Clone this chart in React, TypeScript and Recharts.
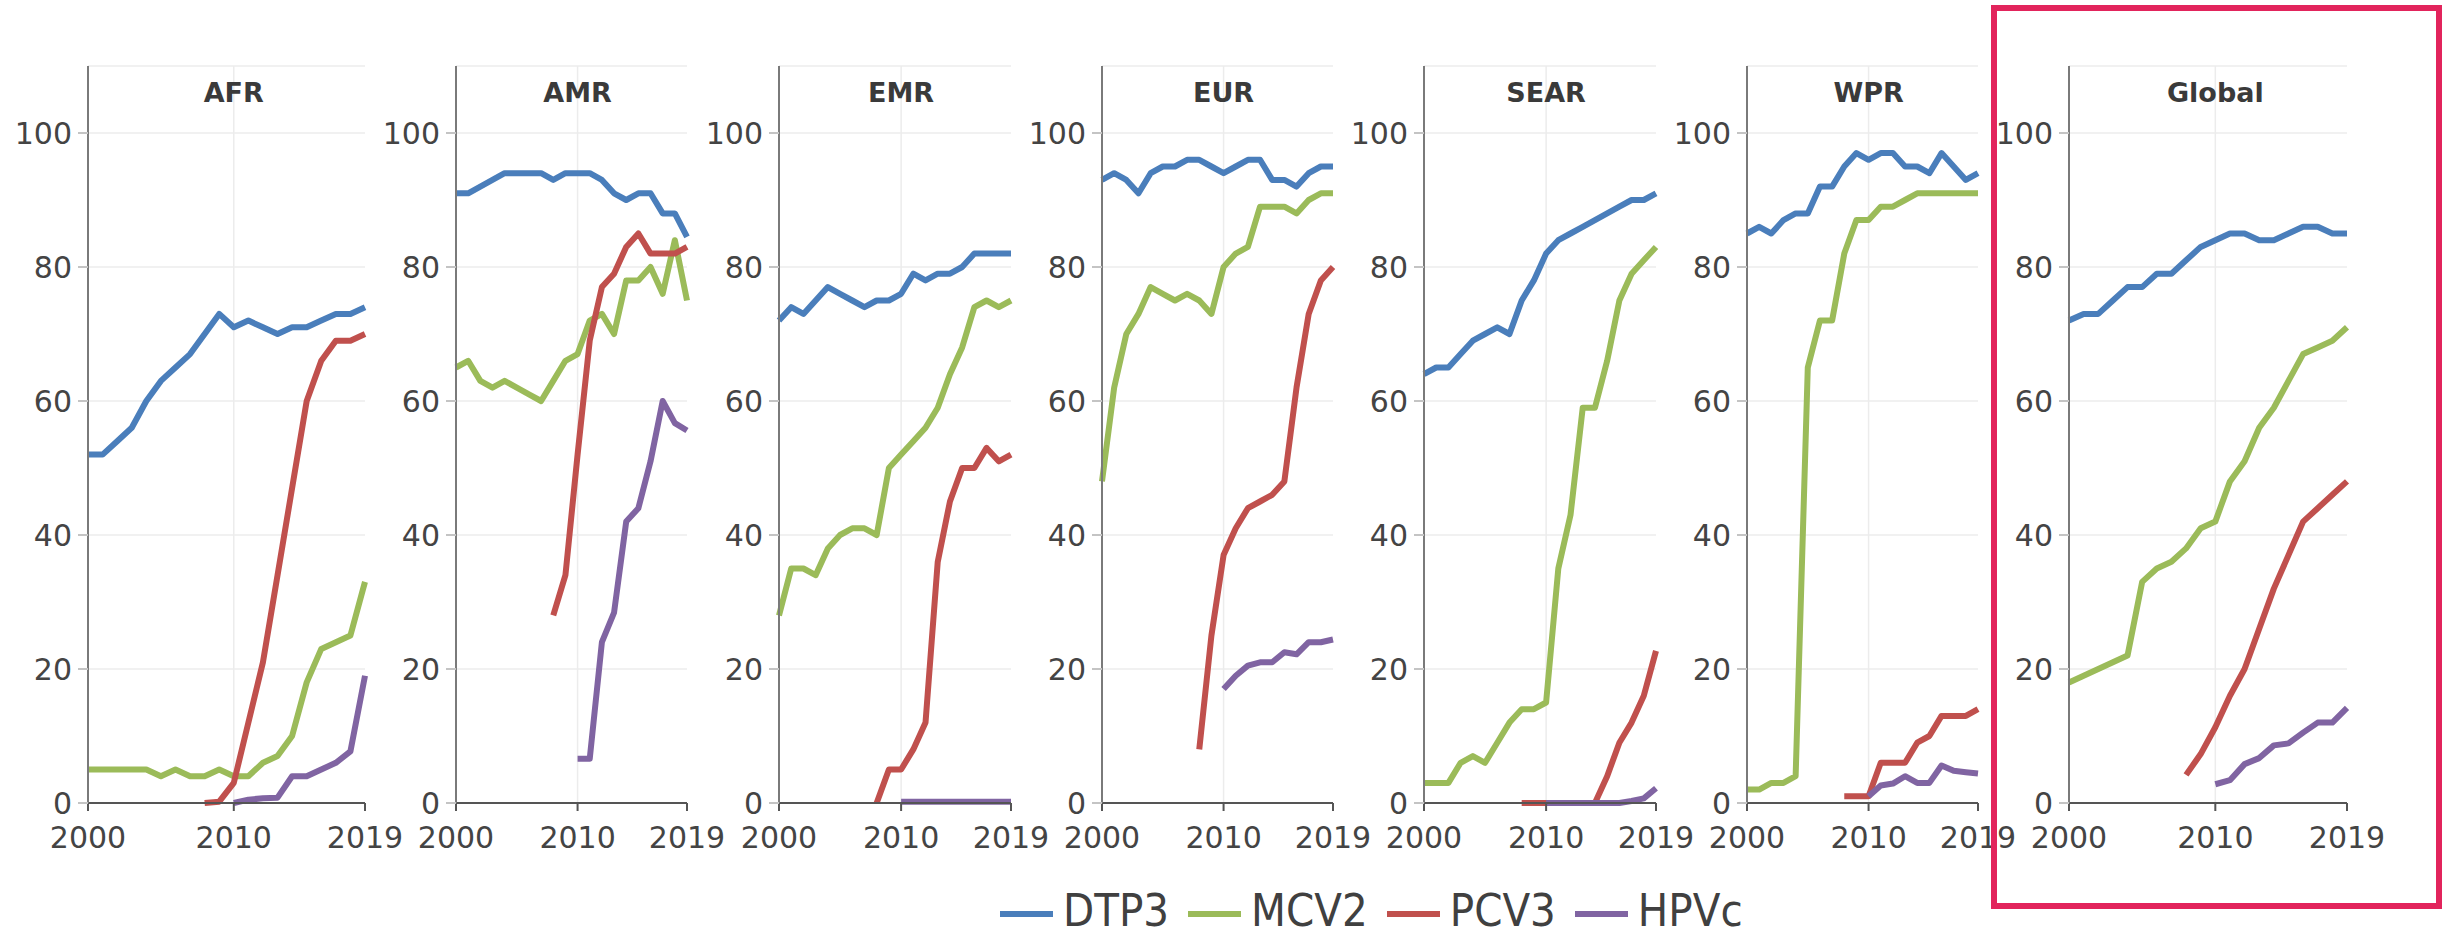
import { LineChart, Line, XAxis, YAxis, CartesianGrid, ReferenceLine, Label } from "recharts";

const years = [2000, 2001, 2002, 2003, 2004, 2005, 2006, 2007, 2008, 2009, 2010, 2011, 2012, 2013, 2014, 2015, 2016, 2017, 2018, 2019];
const xTicks = [2000, 2010, 2019];
const yTicks = [0, 20, 40, 60, 80, 100];
const seriesNames = ["DTP3", "MCV2", "PCV3", "HPVc"];
const seriesColors = ["#4A7EBB", "#9BBB59", "#C0504D", "#8064A2"];
const regions = ["AFR", "AMR", "EMR", "EUR", "SEAR", "WPR", "Global"];

const n = null;

// AFR
const afrDTP3 = [52, 52, 54, 56, 60, 63, 65, 67, 70, 73, 71, 72, 71, 70, 71, 71, 72, 73, 73, 74];
const afrMCV2 = [5, 5, 5, 5, 5, 4, 5, 4, 4, 5, 4, 4, 6, 7, 10, 18, 23, 24, 25, 33];
const afrPCV3 = [n, n, n, n, n, n, n, n, 0, 0.2, 3, 12, 21, 34, 47, 60, 66, 69, 69, 70];
const afrHPVc = [n, n, n, n, n, n, n, n, n, n, 0, 0.5, 0.7, 0.8, 4, 4, 5, 6, 7.7, 19];

// AMR
const amrDTP3 = [91, 91, 92, 93, 94, 94, 94, 94, 93, 94, 94, 94, 93, 91, 90, 91, 91, 88, 88, 84.5];
const amrMCV2 = [65, 66, 63, 62, 63, 62, 61, 60, 63, 66, 67, 72, 73, 70, 78, 78, 80, 76, 84, 75];
const amrPCV3 = [n, n, n, n, n, n, n, n, 28, 34, 52, 69, 77, 79, 83, 85, 82, 82, 82, 83];
const amrHPVc = [n, n, n, n, n, n, n, n, n, n, 6.6, 6.6, 24, 28.4, 42, 44, 51, 60, 56.7, 55.6];

// EMR
const emrDTP3 = [72, 74, 73, 75, 77, 76, 75, 74, 75, 75, 76, 79, 78, 79, 79, 80, 82, 82, 82, 82];
const emrMCV2 = [28, 35, 35, 34, 38, 40, 41, 41, 40, 50, 52, 54, 56, 59, 64, 68, 74, 75, 74, 75];
const emrPCV3 = [n, n, n, n, n, n, n, n, 0, 5, 5, 8, 12, 36, 45, 50, 50, 53, 51, 52];
const emrHPVc = [n, n, n, n, n, n, n, n, n, n, 0.2, 0.2, 0.2, 0.2, 0.2, 0.2, 0.2, 0.2, 0.2, 0.2];

// EUR
const eurDTP3 = [93, 94, 93, 91, 94, 95, 95, 96, 96, 95, 94, 95, 96, 96, 93, 93, 92, 94, 95, 95];
const eurMCV2 = [48, 62, 70, 73, 77, 76, 75, 76, 75, 73, 80, 82, 83, 89, 89, 89, 88, 90, 91, 91];
const eurPCV3 = [n, n, n, n, n, n, n, n, 8, 25, 37, 41, 44, 45, 46, 48, 62, 73, 78, 80];
const eurHPVc = [n, n, n, n, n, n, n, n, n, n, 17, 19, 20.5, 21, 21, 22.5, 22.2, 24, 24, 24.4];

// SEAR
const searDTP3 = [64, 65, 65, 67, 69, 70, 71, 70, 75, 78, 82, 84, 85, 86, 87, 88, 89, 90, 90, 91];
const searMCV2 = [3, 3, 3, 6, 7, 6, 9, 12, 14, 14, 15, 35, 43, 59, 59, 66, 75, 79, 81, 83];
const searPCV3 = [n, n, n, n, n, n, n, n, 0, 0, 0, 0, 0, 0, 0, 4, 9, 12, 16, 22.7];
const searHPVc = [n, n, n, n, n, n, n, n, n, n, 0, 0, 0, 0, 0, 0, 0, 0.3, 0.7, 2.2];

// WPR
const wprDTP3 = [85, 86, 85, 87, 88, 88, 92, 92, 95, 97, 96, 97, 97, 95, 95, 94, 97, 95, 93, 94];
const wprMCV2 = [2, 2, 3, 3, 4, 65, 72, 72, 82, 87, 87, 89, 89, 90, 91, 91, 91, 91, 91, 91];
const wprPCV3 = [n, n, n, n, n, n, n, n, 1, 1, 1, 6, 6, 6, 9, 10, 13, 13, 13, 14];
const wprHPVc = [n, n, n, n, n, n, n, n, n, n, 1, 2.6, 2.9, 4, 3, 3, 5.6, 4.8, 4.6, 4.4];

// Global
const globalDTP3 = [72, 73, 73, 75, 77, 77, 79, 79, 81, 83, 84, 85, 85, 84, 84, 85, 86, 86, 85, 85];
const globalMCV2 = [18, 19, 20, 21, 22, 33, 35, 36, 38, 41, 42, 48, 51, 56, 59, 63, 67, 68, 69, 71];
const globalPCV3 = [n, n, n, n, n, n, n, n, 4.2, 7.3, 11.3, 16, 20, 26, 32, 37, 42, 44, 46, 48];
const globalHPVc = [n, n, n, n, n, n, n, n, n, n, 2.8, 3.4, 5.8, 6.7, 8.6, 8.9, 10.5, 12, 12, 14.2];

const regionSeries = [
  [afrDTP3, afrMCV2, afrPCV3, afrHPVc],
  [amrDTP3, amrMCV2, amrPCV3, amrHPVc],
  [emrDTP3, emrMCV2, emrPCV3, emrHPVc],
  [eurDTP3, eurMCV2, eurPCV3, eurHPVc],
  [searDTP3, searMCV2, searPCV3, searHPVc],
  [wprDTP3, wprMCV2, wprPCV3, wprHPVc],
  [globalDTP3, globalMCV2, globalPCV3, globalHPVc],
];

// where each panel's y axis sits on the page, and how wide its plot is
const panelLeft = [88, 456, 779, 1102, 1424, 1747, 2069];
const panelWidth = [277, 231, 232, 231, 232, 231, 278];

const FONT = "'DejaVu Sans', Verdana, sans-serif";
const AXIS_W = 88;

type PanelProps = {
  title: string;
  series: (number | null)[][];
  left: number;
  plotW: number;
};

const Panel = ({ title, series, left, plotW }: PanelProps) => {
  const data = years.map((year, i) => {
    const row: Record<string, number | null> = { year };
    seriesNames.forEach((s, k) => {
      row[s] = series[k][i];
    });
    return row;
  });
  return (
    <div style={{ position: "absolute", left: left - AXIS_W, top: 0 }}>
      <LineChart
        width={AXIS_W + plotW + 12}
        height={880}
        data={data}
        margin={{ top: 66, right: 12, bottom: 0, left: 0 }}
      >
        <CartesianGrid vertical={false} stroke="#ececec" strokeWidth={1.5} />
        <ReferenceLine x={2010} stroke="#ececec" strokeWidth={1.5}>
          <Label
            value={title}
            position="insideTop"
            offset={17}
            fill="#3a3a3a"
            fontSize={27}
            fontWeight="bold"
            fontFamily={FONT}
          />
        </ReferenceLine>
        <XAxis
          dataKey="year"
          type="number"
          domain={[2000, 2019]}
          ticks={xTicks}
          interval={0}
          height={77}
          tickSize={8}
          tickMargin={16}
          stroke="#555"
          strokeWidth={2}
          tick={{ fill: "#444", fontSize: 30, fontFamily: FONT }}
        />
        <YAxis
          domain={[0, 110]}
          ticks={yTicks}
          interval={0}
          width={AXIS_W}
          tickSize={10}
          tickMargin={6}
          axisLine={{ stroke: "#7a7a7a", strokeWidth: 2 }}
          tickLine={{ stroke: "#c4c4c4", strokeWidth: 2 }}
          tick={{ fill: "#444", fontSize: 30, fontFamily: FONT }}
        />
        {seriesNames.map((s, k) => (
          <Line
            key={s}
            type="linear"
            dataKey={s}
            stroke={seriesColors[k]}
            strokeWidth={6}
            strokeLinejoin="round"
            dot={false}
            activeDot={false}
            connectNulls={false}
            isAnimationActive={false}
          />
        ))}
      </LineChart>
    </div>
  );
};

export default function App() {
  return (
    <div style={{ position: "relative", width: 2453, height: 939, background: "#fff" }}>
      <style>{`html,body{margin:0;overflow:hidden} .recharts-surface{overflow:visible}`}</style>
      {regions.map((r, i) => (
        <Panel key={r} title={r} series={regionSeries[i]} left={panelLeft[i]} plotW={panelWidth[i]} />
      ))}
      <div
        style={{
          position: "absolute",
          left: 1000,
          top: 889,
          height: 44,
          display: "flex",
          alignItems: "center",
          fontFamily: "'Liberation Sans Narrow', 'DejaVu Sans Condensed', 'Liberation Sans', Arial, sans-serif",
          fontSize: 45,
          lineHeight: "44px",
          color: "#404040",
          whiteSpace: "nowrap",
        }}
      >
        {seriesNames.map((s, k) => (
          <div key={s} style={{ display: "flex", alignItems: "center", marginRight: k < seriesNames.length - 1 ? 19 : 0 }}>
            <div style={{ width: 53, height: 6, background: seriesColors[k], marginRight: 10, position: "relative", top: 3 }} />
            <span>{s}</span>
          </div>
        ))}
      </div>
      <div
        style={{
          position: "absolute",
          left: 1991,
          top: 5,
          width: 451,
          height: 904,
          border: "6px solid #E2245C",
          boxSizing: "border-box",
          zIndex: 5,
          pointerEvents: "none",
        }}
      />
    </div>
  );
}
